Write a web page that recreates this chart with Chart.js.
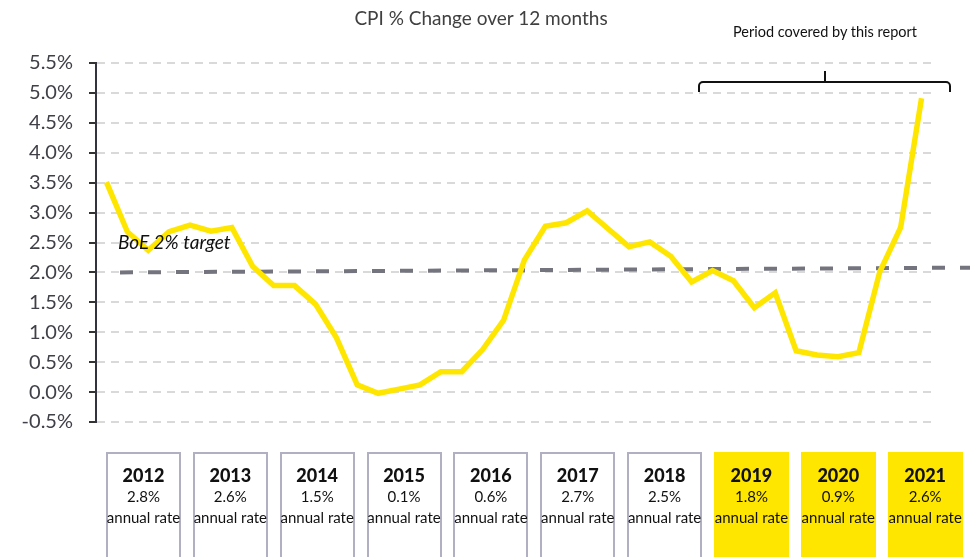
<!DOCTYPE html>
<html>
<head>
<meta charset="utf-8">
<title>CPI % Change over 12 months</title>
<script src="https://cdn.jsdelivr.net/npm/chart.js@4/dist/chart.umd.min.js"></script>
<style>
  body { margin: 0; background: #fff; font-family: Lato, sans-serif; }
  #wrap { position: relative; width: 970px; height: 557px; overflow: hidden; }
  #chartBox { position: absolute; left: 0; top: 0; width: 970px; height: 557px; }
  .title { position: absolute; top: 6px; left: 0; width: 962px; text-align: center; font-size: 19px; color: #404040; }
  .period { position: absolute; top: 23px; left: 715px; width: 220px; text-align: center; font-size: 14.5px; color: #111; }
  .yearbox { position: absolute; top: 452px; width: 75px; height: 120px; box-sizing: border-box;
             border: 2px solid #b0b0c2; text-align: center; color: #111; }
  .yearbox.report { background: #ffe600; border-color: #ffe600; }
  .yearbox b { display: block; font-size: 18px; font-weight: 900; line-height: 22px; margin-top: 10px; }
  .yearbox span { display: block; font-size: 15px; line-height: 21px; white-space: nowrap; margin: 0 -4px; }
</style>
</head>
<body>
<div id="wrap">
  <div id="chartBox"><canvas id="cpiChart"></canvas></div>
  <div class="title">CPI % Change over 12 months</div>
  <div class="period">Period covered by this report</div>
  <div id="yearRow"></div>
</div>

<script>
// ===== Data =====
const years = ["2012", "2013", "2014", "2015", "2016", "2017", "2018", "2019", "2020", "2021"];
const quarters = ["Q1", "Q2", "Q3", "Q4"];
const annualRates = ["2.8%", "2.6%", "1.5%", "0.1%", "0.6%", "2.7%", "2.5%", "1.8%", "0.9%", "2.6%"];
const reportYears = ["2019", "2020", "2021"];

// CPI % change over 12 months, one value per quarter (2012 Q1 - 2021 Q4)
const cpiValues = [
  3.51, 2.68, 2.37, 2.68,
  2.79, 2.69, 2.75, 2.10,
  1.78, 1.78, 1.47, 0.91,
  0.12, -0.02, 0.05, 0.12,
  0.34, 0.34, 0.71, 1.20,
  2.21, 2.77, 2.83, 3.03,
  2.73, 2.43, 2.51, 2.27,
  1.84, 2.03, 1.86, 1.41,
  1.66, 0.69, 0.62, 0.59,
  0.66, 2.01, 2.75, 4.91
];

// BoE target trend line: value at its left end, value at its right end
const targetLine = [2.0, 2.08];

const yMin = -0.5, yMax = 5.5, yStep = 0.5;

const quarterLabels = years.flatMap(y => quarters.map(q => y + " " + q));

// ===== Year boxes under the chart =====
const row = document.getElementById("yearRow");
years.forEach((yr, i) => {
  const box = document.createElement("div");
  box.className = "yearbox" + (reportYears.includes(yr) ? " report" : "");
  box.style.left = (106 + i * 86.85) + "px";
  box.innerHTML = "<b>" + yr + "</b><span>" + annualRates[i] + "</span><span>annual rate</span>";
  row.appendChild(box);
});

// ===== Target line, label and bracket =====
const overlayPlugin = {
  id: "overlay",
  beforeDatasetsDraw(chart) {
    const { ctx, chartArea, scales: { y } } = chart;
    ctx.save();
    ctx.strokeStyle = "#74747f";
    ctx.lineWidth = 4;
    ctx.setLineDash([13, 15]);
    ctx.beginPath();
    ctx.moveTo(chartArea.left + 24, y.getPixelForValue(targetLine[0]));
    ctx.lineTo(chart.width, y.getPixelForValue(targetLine[1]));
    ctx.stroke();
    ctx.restore();
  },
  afterDatasetsDraw(chart) {
    const { ctx, chartArea, scales: { y } } = chart;
    ctx.save();
    ctx.font = "italic 19px Lato";
    ctx.fillStyle = "#111";
    ctx.textBaseline = "middle";
    ctx.fillText("BoE 2% target", chartArea.left + 22, y.getPixelForValue(2.5));

    // bracket over the report period
    const l = 699, r = 950, top = 82, drop = 92, mid = 825, rad = 4;
    ctx.strokeStyle = "#111";
    ctx.lineWidth = 2;
    ctx.beginPath();
    ctx.moveTo(l, drop);
    ctx.arcTo(l, top, l + rad, top, rad);
    ctx.lineTo(r - rad, top);
    ctx.arcTo(r, top, r, drop, rad);
    ctx.lineTo(r, drop);
    ctx.moveTo(mid, top);
    ctx.lineTo(mid, 71);
    ctx.stroke();
    ctx.restore();
  }
};

// ===== Chart =====
const ctx = document.getElementById("cpiChart").getContext("2d");
const cpiChart = new Chart(ctx, {
  type: "line",
  data: {
    labels: quarterLabels,
    datasets: [{
      label: "CPI",
      data: cpiValues,
      borderColor: "#ffe600",
      borderWidth: 5.5,
      pointRadius: 0,
      tension: 0,
      fill: false
    }]
  },
  options: {
    responsive: true,
    maintainAspectRatio: false,
    animation: false,
    layout: { padding: { top: 63, bottom: 135, left: 0, right: 38 } },
    plugins: {
      legend: { display: false },
      tooltip: { enabled: false }
    },
    scales: {
      x: { display: false, offset: true },
      y: {
        min: yMin,
        max: yMax,
        afterFit(scale) { scale.width = 96; },
        ticks: {
          stepSize: yStep,
          padding: 16,
          color: "#404048",
          font: { family: "Lato", size: 20 },
          callback: v => v.toFixed(1) + "%"
        },
        grid: {
          color: "#d9d9d9",
          lineWidth: 2,
          tickLength: 7,
          tickColor: "#333",
          tickWidth: 2
        },
        border: { display: true, color: "#333340", width: 2, dash: [8, 6] }
      }
    }
  },
  plugins: [overlayPlugin]
});
</script>
</body>
</html>
